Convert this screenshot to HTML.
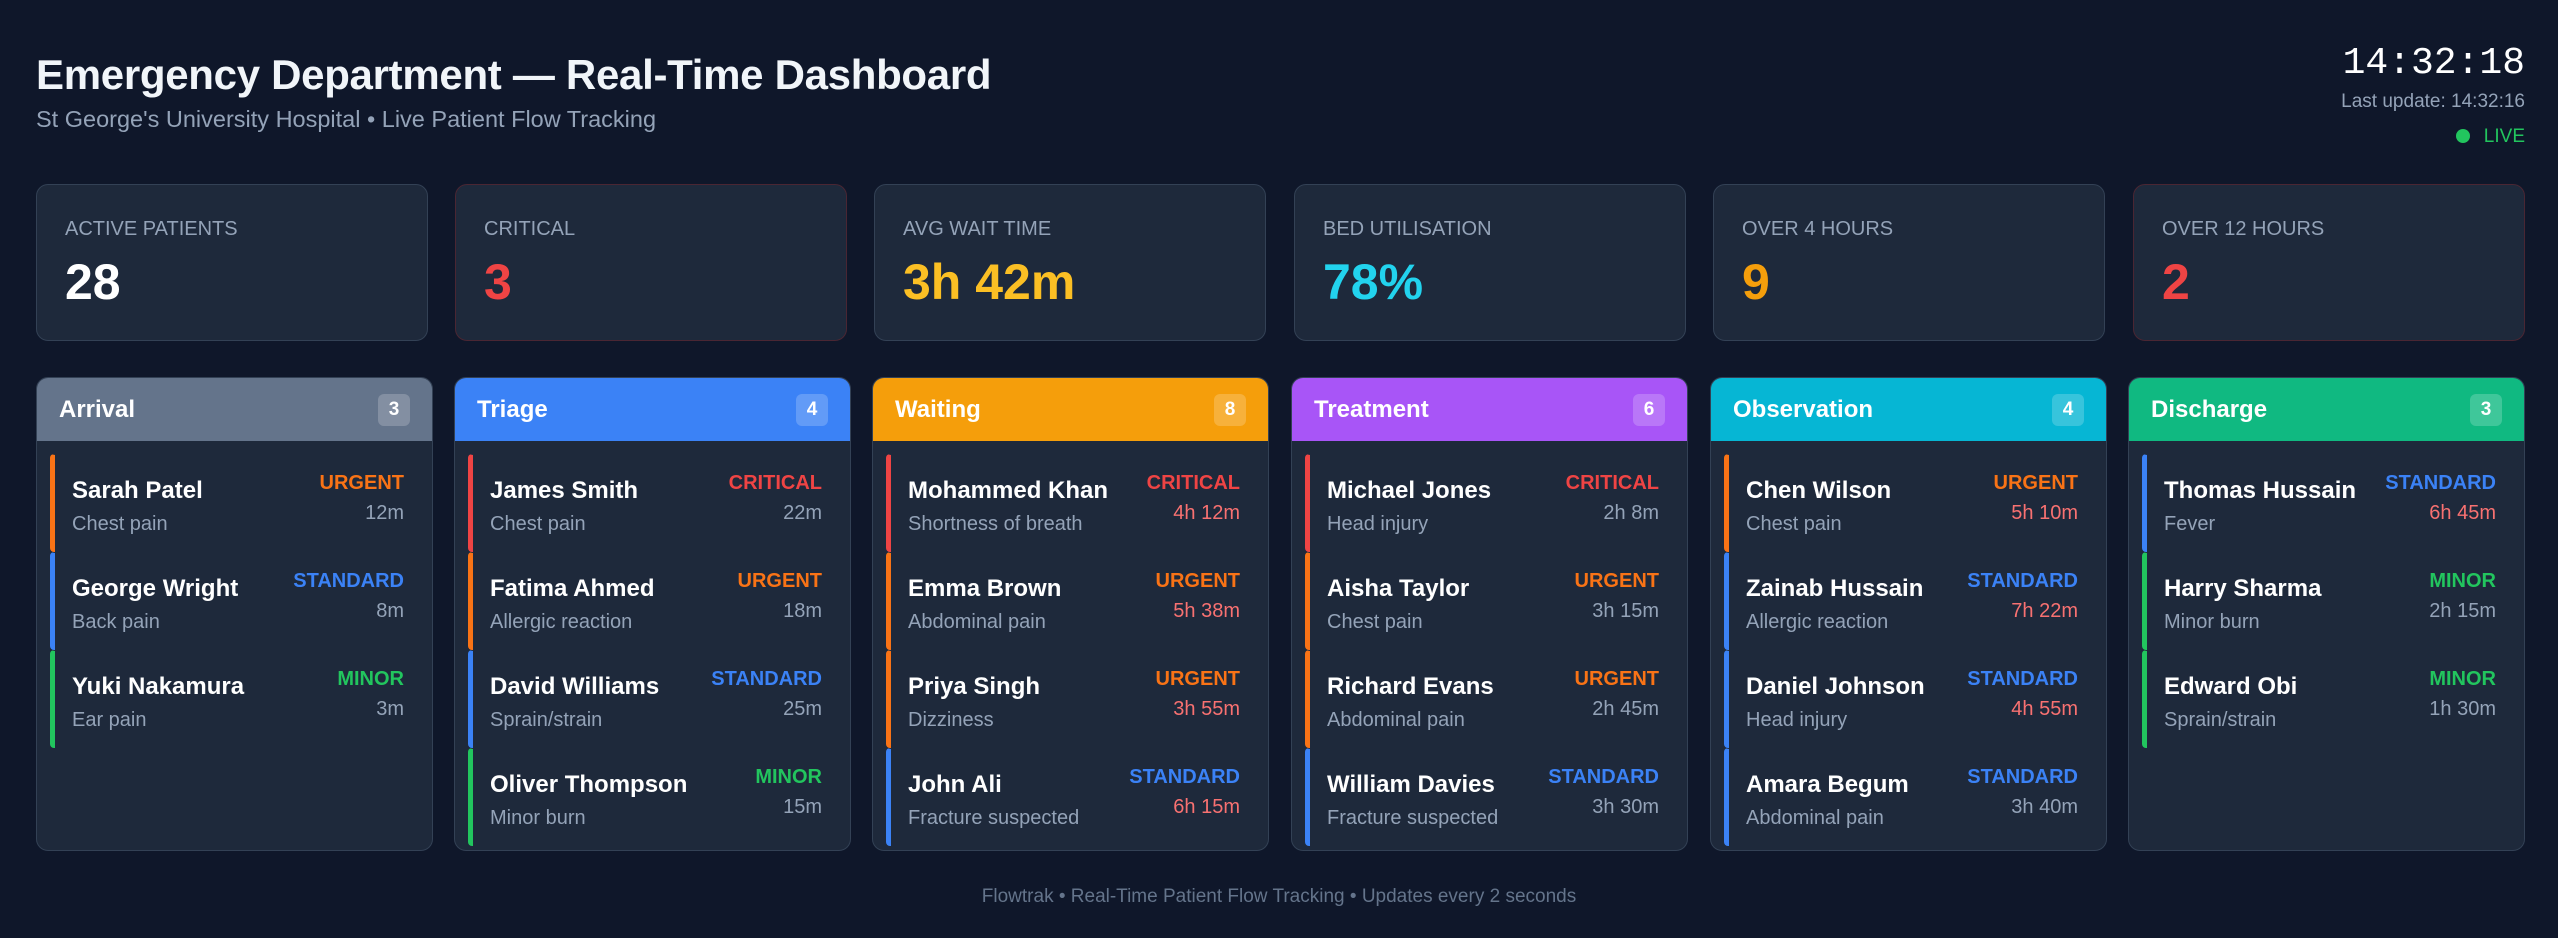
<!DOCTYPE html>
<html><head><meta charset="utf-8"><style>
*{box-sizing:border-box;margin:0;padding:0}
body{width:2558px;height:938px;background:#0f172a;font-family:"Liberation Sans",sans-serif;color:#f1f5f9;position:relative;overflow:hidden}
h1{position:absolute;left:36px;top:51px;font-size:42px;font-weight:bold;letter-spacing:-0.3px}
.sub{position:absolute;left:36px;top:106px;font-size:23.5px;color:#94a3b8}
.clock{position:absolute;right:33px;top:42px;font-family:"Liberation Mono",monospace;font-size:38px;color:#fff;text-align:right}
.upd{position:absolute;right:33px;top:91px;font-size:19px;color:#94a3b8}
.live{position:absolute;right:33px;top:126px;font-size:19px;color:#22c55e}
.live:before{content:"";display:inline-block;width:14px;height:14px;border-radius:50%;background:#22c55e;margin-right:14px;vertical-align:-1px}
.stat{position:absolute;top:184px;width:392px;height:157px;background:#1e293b;border:1px solid #334155;border-radius:12px;padding:33px 0 0 28px}
.stat .l{font-size:20px;color:#94a3b8;text-transform:uppercase}
.stat .v{font-size:50px;font-weight:bold;margin-top:12px}
.col{position:absolute;top:377px;width:397px;height:474px;background:#1e293b;border:1px solid #334155;border-radius:12px;overflow:hidden}
.hd{height:63px;padding:0 22px;display:flex;align-items:center;justify-content:space-between;font-size:24px;font-weight:bold;color:#fff}
.bd{width:32px;height:32px;border-radius:6px;background:rgba(255,255,255,.2);font-size:19px;display:flex;align-items:center;justify-content:center}
.list{padding:13px 0 0 13px}
.p{position:relative;height:98px;margin-right:28px;padding:22px 0 0 17px;border-left:5px solid;border-radius:4px;border-top:1px solid transparent}
.p .n{font-size:24px;font-weight:bold;color:#fff}
.p .c{font-size:20px;color:#94a3b8;margin-top:8px}
.p .pr{position:absolute;right:0;top:17px;font-size:20px;font-weight:bold;text-align:right}
.p .t{position:absolute;right:0;top:47px;font-size:20px;color:#94a3b8}
.t.r{color:#f87171!important}
.CR{color:#ef4444}.UR{color:#f97316}.ST{color:#3b82f6}.MI{color:#22c55e}
.bCR{border-left-color:#ef4444}.bUR{border-left-color:#f97316}.bST{border-left-color:#3b82f6}.bMI{border-left-color:#22c55e}
.foot{position:absolute;left:0;right:0;top:886px;text-align:center;font-size:19px;color:#64748b}
</style></head><body>
<h1>Emergency Department — Real-Time Dashboard</h1>
<div class="sub">St George's University Hospital • Live Patient Flow Tracking</div>
<div class="clock">14:32:18</div>
<div class="upd">Last update: 14:32:16</div>
<div class="live">LIVE</div>

<div class="stat" style="left:36px"><div class="l">Active Patients</div><div class="v" style="color:#fff">28</div></div>
<div class="stat" style="left:455px;border-color:#4a2633"><div class="l">Critical</div><div class="v" style="color:#ef4444">3</div></div>
<div class="stat" style="left:874px"><div class="l">Avg Wait Time</div><div class="v" style="color:#fbbf24">3h 42m</div></div>
<div class="stat" style="left:1294px"><div class="l">Bed Utilisation</div><div class="v" style="color:#22d3ee">78%</div></div>
<div class="stat" style="left:1713px"><div class="l">Over 4 Hours</div><div class="v" style="color:#f59e0b">9</div></div>
<div class="stat" style="left:2133px;border-color:#4a2633"><div class="l">Over 12 Hours</div><div class="v" style="color:#ef4444">2</div></div>

<div class="col" style="left:36px"><div class="hd" style="background:#64748b">Arrival<span class="bd">3</span></div><div class="list">
<div class="p bUR"><div class="n">Sarah Patel</div><div class="c">Chest pain</div><div class="pr UR">URGENT</div><div class="t">12m</div></div>
<div class="p bST"><div class="n">George Wright</div><div class="c">Back pain</div><div class="pr ST">STANDARD</div><div class="t">8m</div></div>
<div class="p bMI"><div class="n">Yuki Nakamura</div><div class="c">Ear pain</div><div class="pr MI">MINOR</div><div class="t">3m</div></div>
</div></div>

<div class="col" style="left:454px"><div class="hd" style="background:#3b82f6">Triage<span class="bd">4</span></div><div class="list">
<div class="p bCR"><div class="n">James Smith</div><div class="c">Chest pain</div><div class="pr CR">CRITICAL</div><div class="t">22m</div></div>
<div class="p bUR"><div class="n">Fatima Ahmed</div><div class="c">Allergic reaction</div><div class="pr UR">URGENT</div><div class="t">18m</div></div>
<div class="p bST"><div class="n">David Williams</div><div class="c">Sprain/strain</div><div class="pr ST">STANDARD</div><div class="t">25m</div></div>
<div class="p bMI"><div class="n">Oliver Thompson</div><div class="c">Minor burn</div><div class="pr MI">MINOR</div><div class="t">15m</div></div>
</div></div>

<div class="col" style="left:872px"><div class="hd" style="background:#f59e0b">Waiting<span class="bd">8</span></div><div class="list">
<div class="p bCR"><div class="n">Mohammed Khan</div><div class="c">Shortness of breath</div><div class="pr CR">CRITICAL</div><div class="t r">4h 12m</div></div>
<div class="p bUR"><div class="n">Emma Brown</div><div class="c">Abdominal pain</div><div class="pr UR">URGENT</div><div class="t r">5h 38m</div></div>
<div class="p bUR"><div class="n">Priya Singh</div><div class="c">Dizziness</div><div class="pr UR">URGENT</div><div class="t r">3h 55m</div></div>
<div class="p bST"><div class="n">John Ali</div><div class="c">Fracture suspected</div><div class="pr ST">STANDARD</div><div class="t r">6h 15m</div></div>
</div></div>

<div class="col" style="left:1291px"><div class="hd" style="background:#a855f7">Treatment<span class="bd">6</span></div><div class="list">
<div class="p bCR"><div class="n">Michael Jones</div><div class="c">Head injury</div><div class="pr CR">CRITICAL</div><div class="t">2h 8m</div></div>
<div class="p bUR"><div class="n">Aisha Taylor</div><div class="c">Chest pain</div><div class="pr UR">URGENT</div><div class="t">3h 15m</div></div>
<div class="p bUR"><div class="n">Richard Evans</div><div class="c">Abdominal pain</div><div class="pr UR">URGENT</div><div class="t">2h 45m</div></div>
<div class="p bST"><div class="n">William Davies</div><div class="c">Fracture suspected</div><div class="pr ST">STANDARD</div><div class="t">3h 30m</div></div>
</div></div>

<div class="col" style="left:1710px"><div class="hd" style="background:#06b6d4">Observation<span class="bd">4</span></div><div class="list">
<div class="p bUR"><div class="n">Chen Wilson</div><div class="c">Chest pain</div><div class="pr UR">URGENT</div><div class="t r">5h 10m</div></div>
<div class="p bST"><div class="n">Zainab Hussain</div><div class="c">Allergic reaction</div><div class="pr ST">STANDARD</div><div class="t r">7h 22m</div></div>
<div class="p bST"><div class="n">Daniel Johnson</div><div class="c">Head injury</div><div class="pr ST">STANDARD</div><div class="t r">4h 55m</div></div>
<div class="p bST"><div class="n">Amara Begum</div><div class="c">Abdominal pain</div><div class="pr ST">STANDARD</div><div class="t">3h 40m</div></div>
</div></div>

<div class="col" style="left:2128px"><div class="hd" style="background:#10b981">Discharge<span class="bd">3</span></div><div class="list">
<div class="p bST"><div class="n">Thomas Hussain</div><div class="c">Fever</div><div class="pr ST">STANDARD</div><div class="t r">6h 45m</div></div>
<div class="p bMI"><div class="n">Harry Sharma</div><div class="c">Minor burn</div><div class="pr MI">MINOR</div><div class="t">2h 15m</div></div>
<div class="p bMI"><div class="n">Edward Obi</div><div class="c">Sprain/strain</div><div class="pr MI">MINOR</div><div class="t">1h 30m</div></div>
</div></div>

<div class="foot">Flowtrak • Real-Time Patient Flow Tracking • Updates every 2 seconds</div>
</body></html>
